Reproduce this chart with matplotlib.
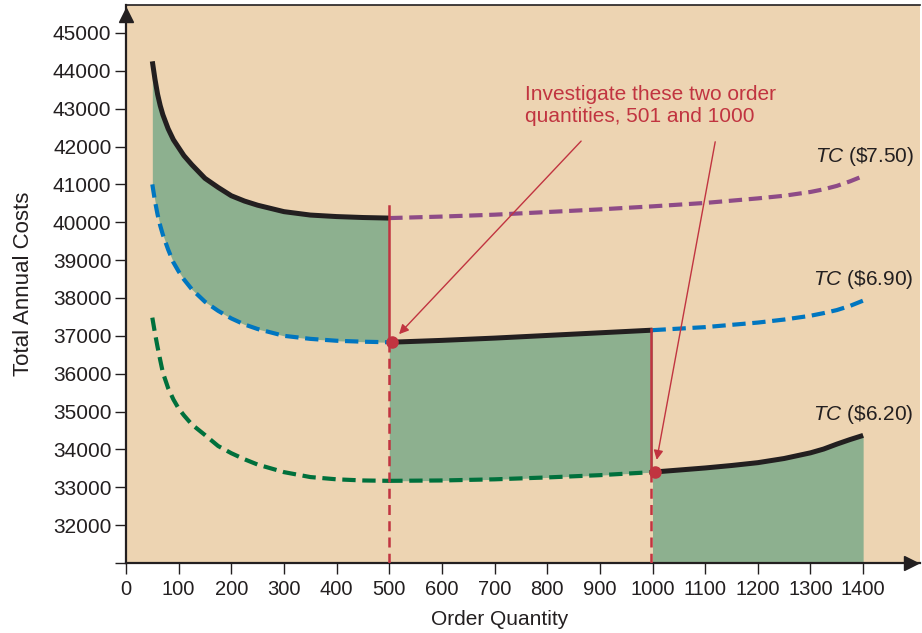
import matplotlib
matplotlib.use("Agg")
import matplotlib.pyplot as plt

plt.rcParams['font.family'] = ['Liberation Sans', 'DejaVu Sans']
plt.rcParams['mathtext.fontset'] = 'custom'
plt.rcParams['mathtext.it'] = 'Liberation Sans:italic'
plt.rcParams['mathtext.rm'] = 'Liberation Sans'

# total cost curves
q_low = [50, 55, 60, 65, 70, 80, 90, 100, 110, 125, 150, 175, 200, 225, 250,
         300, 350, 400, 450, 500]
tc750_low = [44250, 43780, 43380, 43080, 42840, 42470, 42180, 41970, 41760, 41520,
             41160, 40920, 40700, 40560, 40450, 40280, 40190, 40150, 40125, 40110]
tc690_low = [41000, 40560, 40200, 39910, 39670, 39280, 38940, 38700, 38490, 38230,
             37900, 37660, 37460, 37300, 37180, 37000, 36920, 36870, 36845, 36830]
tc620_low = [37480, 37070, 36700, 36360, 36030, 35620, 35320, 35080, 34900, 34660,
             34380, 34090, 33900, 33740, 33600, 33400, 33270, 33210, 33180, 33170]

q_high = [500, 600, 700, 800, 900, 1000, 1100, 1150, 1200, 1250, 1300, 1325, 1350, 1375, 1400]
tc750_high = [40110, 40150, 40200, 40270, 40340, 40420, 40510, 40570, 40630, 40700,
              40800, 40870, 40960, 41080, 41220]
tc690_high = [36830, 36880, 36940, 37010, 37080, 37150, 37230, 37290, 37350, 37430,
              37530, 37600, 37680, 37790, 37930]
tc620_high = [33170, 33180, 33210, 33260, 33320, 33400, 33510, 33575, 33650, 33760,
              33910, 34010, 34140, 34260, 34370]

curve_labels = ['$TC$ (\\$7.50)', '$TC$ (\\$6.90)', '$TC$ (\\$6.20)']
check_q = [501, 1000]
check_tc = [36830, 33395]

bg = '#EDD4B2'
fill = '#8DB08F'
red = '#C13440'
dark = '#231F20'
purple = '#8E4B87'
blue = '#0076C0'
green = '#00703C'
ymin = 31000

fig = plt.figure(figsize=(9.22, 6.33), dpi=100)
ax = fig.add_axes([126 / 922, 1 - 563 / 633, 794 / 922, 558 / 633])
ax.set_facecolor(bg)
ax.set_xlim(0, 1508)
ax.set_ylim(ymin, 45738)

# shaded regions
ax.fill_between(q_low, tc750_low, tc690_low, color=fill, lw=0, zorder=1)
ax.fill_between(q_high[:6], tc690_high[:6], tc620_high[:6], color=fill, lw=0, zorder=1)
ax.fill_between(q_high[5:], tc620_high[5:], ymin, color=fill, lw=0, zorder=1)

dash = (3.2, 1.6)
ax.plot(q_low, tc690_low, color=blue, lw=3, dashes=dash, zorder=3)
ax.plot(q_high[5:], tc690_high[5:], color=blue, lw=3, dashes=dash, zorder=3)
ax.plot(q_high, tc750_high, color=purple, lw=3, dashes=dash, zorder=3)
ax.plot(q_low, tc620_low, color=green, lw=3, dashes=dash, zorder=3)
ax.plot(q_high[:6], tc620_high[:6], color=green, lw=3, dashes=dash, zorder=3)

for qs, vals in [(q_low, tc750_low), (q_high[:6], tc690_high[:6]), (q_high[5:], tc620_high[5:])]:
    ax.plot(qs, vals, color=dark, lw=3.6, zorder=4, solid_capstyle='butt',
            solid_joinstyle='round')

# red break lines
ax.plot([500, 500], [40440, tc690_high[0]], color=red, lw=1.8, zorder=5)
ax.plot([500, 500], [tc690_high[0], ymin], color=red, lw=1.8, dashes=(4, 2.5), zorder=5)
ax.plot([997, 997], [37190, tc620_high[5]], color=red, lw=1.8, zorder=5)
ax.plot([997, 997], [tc620_high[5], ymin], color=red, lw=1.8, dashes=(4, 2.5), zorder=5)
ax.plot([q + 4 for q in check_q], check_tc, 'o', color=red, ms=8, zorder=6)

ax.text(758, 43620, 'Investigate these two order\nquantities, 501 and 1000',
        color=red, fontsize=15, va='top', ha='left')
ax.annotate('', xy=(515, 36991), xytext=(868, 42197),
            arrowprops=dict(arrowstyle='-|>', color=red, lw=1, mutation_scale=14), zorder=6)
ax.annotate('', xy=(1007, 33652), xytext=(1120, 42197),
            arrowprops=dict(arrowstyle='-|>', color=red, lw=1, mutation_scale=14), zorder=6)

for lab, x, y in zip(curve_labels, [1309, 1304, 1304], [41738, 38486, 34926]):
    ax.text(x, y, lab, fontsize=15, color=dark, va='center', ha='left')

# axes styling
ax.set_xticks(range(0, 1401, 100))
ax.set_yticks(range(31000, 45001, 1000))
ax.set_yticklabels([''] + [str(v) for v in range(32000, 45001, 1000)])
ax.tick_params(direction='out', length=8, width=1, colors=dark, labelsize=15)
ax.tick_params(axis='y', pad=2.5)
ax.tick_params(axis='x', pad=4, labelsize=14.5)
for s in ['left', 'bottom']:
    ax.spines[s].set_linewidth(1.6)
    ax.spines[s].set_color(dark)
ax.spines['right'].set_visible(False)
ax.spines['top'].set_linewidth(1.2)
ax.spines['top'].set_color(dark)
ax.plot(0, 45480, marker='^', ms=10, color=dark, clip_on=False, zorder=7)
ax.plot(1490, ymin, marker='>', ms=10, color=dark, clip_on=False, zorder=7)

ax.set_xlabel('Order Quantity', fontsize=15, color=dark)
ax.set_ylabel('Total Annual Costs', fontsize=16, color=dark)
ax.xaxis.set_label_coords((500 - 126) / 794, -0.085)
ax.yaxis.label.set_verticalalignment('center')
ax.yaxis.set_label_coords(-(126 - 23.5) / 794, 0.5)

fig.savefig('out.png', dpi=100)
